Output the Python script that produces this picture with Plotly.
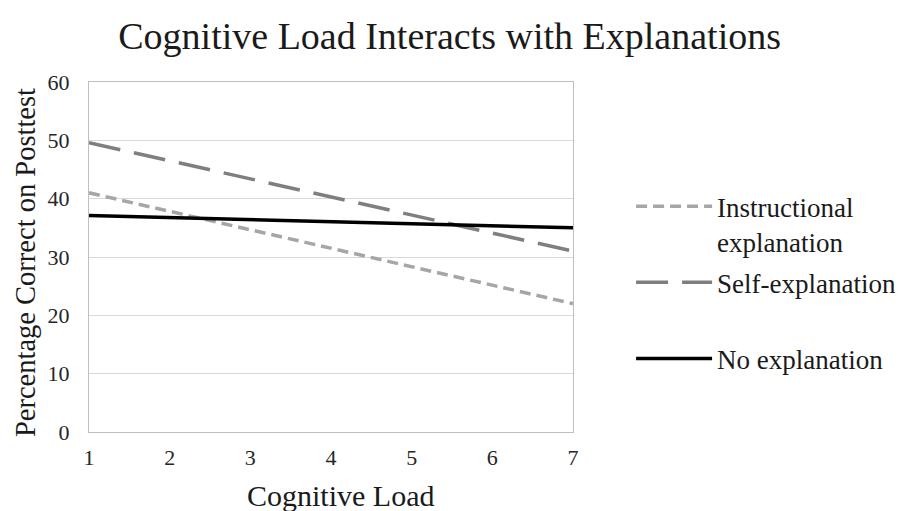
import plotly.graph_objects as go

load = [1, 7]
instructional = [41, 22]
self_expl = [49.6, 31]
no_expl = [37.1, 35]
x_ticks = [1, 2, 3, 4, 5, 6, 7]
y_ticks = [0, 10, 20, 30, 40, 50, 60]

FONT = "Liberation Serif, Times New Roman, serif"

fig = go.Figure()
fig.add_trace(go.Scatter(x=load, y=instructional, mode="lines",
                         name="Instructional<br>explanation", legendgroup="a",
                         line=dict(color="#a6a6a6", width=3.5, dash="11px,6px")))
fig.add_trace(go.Scatter(x=load, y=self_expl, mode="lines",
                         name="Self-explanation<br> ", legendgroup="b",
                         line=dict(color="#7f7f7f", width=3.5, dash="32px,14px")))
fig.add_trace(go.Scatter(x=load, y=no_expl, mode="lines",
                         name="No explanation", legendgroup="c",
                         line=dict(color="#000000", width=3.5)))

fig.update_layout(
    width=905, height=503,
    margin=dict(l=81, r=340, t=74, b=79),
    paper_bgcolor="white", plot_bgcolor="white",
    font=dict(family=FONT, color="#222222"),
    title=dict(text="Cognitive Load Interacts with Explanations",
               x=0.488, xanchor="center", y=0.945, yanchor="middle",
               font=dict(family=FONT, size=38, color="#1a1a1a")),
    legend=dict(x=1.12, xanchor="left", y=0.714, yanchor="top",
                font=dict(family=FONT, size=27, color="#1a1a1a"),
                valign="top", tracegroupgap=3, itemwidth=76,
                bgcolor="rgba(0,0,0,0)"),
    xaxis=dict(range=[1, 7], tickvals=x_ticks, ticks="", showgrid=False,
               showline=True, linecolor="#bfbfbf", linewidth=1, mirror=True,
               tickfont=dict(family=FONT, size=22, color="#262626"),
               ticklabelstandoff=6, zeroline=False, automargin=False),
    yaxis=dict(range=[0, 60], tickvals=y_ticks, ticks="", showgrid=True,
               gridcolor="#d9d9d9", gridwidth=1,
               showline=True, linecolor="#bfbfbf", linewidth=1, mirror=True,
               tickfont=dict(family=FONT, size=22, color="#262626"),
               ticklabelstandoff=14, zeroline=False, automargin=False),
    annotations=[
        dict(text="Cognitive Load", xref="paper", yref="paper",
             x=0.5186, y=-0.18, xanchor="center", yanchor="middle",
             showarrow=False,
             font=dict(family=FONT, size=30, color="#1a1a1a")),
        dict(text="Percentage Correct on Posttest", xref="paper", yref="paper",
             x=-0.130, y=0.483, xanchor="center", yanchor="middle",
             textangle=-90, showarrow=False,
             font=dict(family=FONT, size=28.5, color="#1a1a1a")),
    ],
)

fig.write_html("out.html")
